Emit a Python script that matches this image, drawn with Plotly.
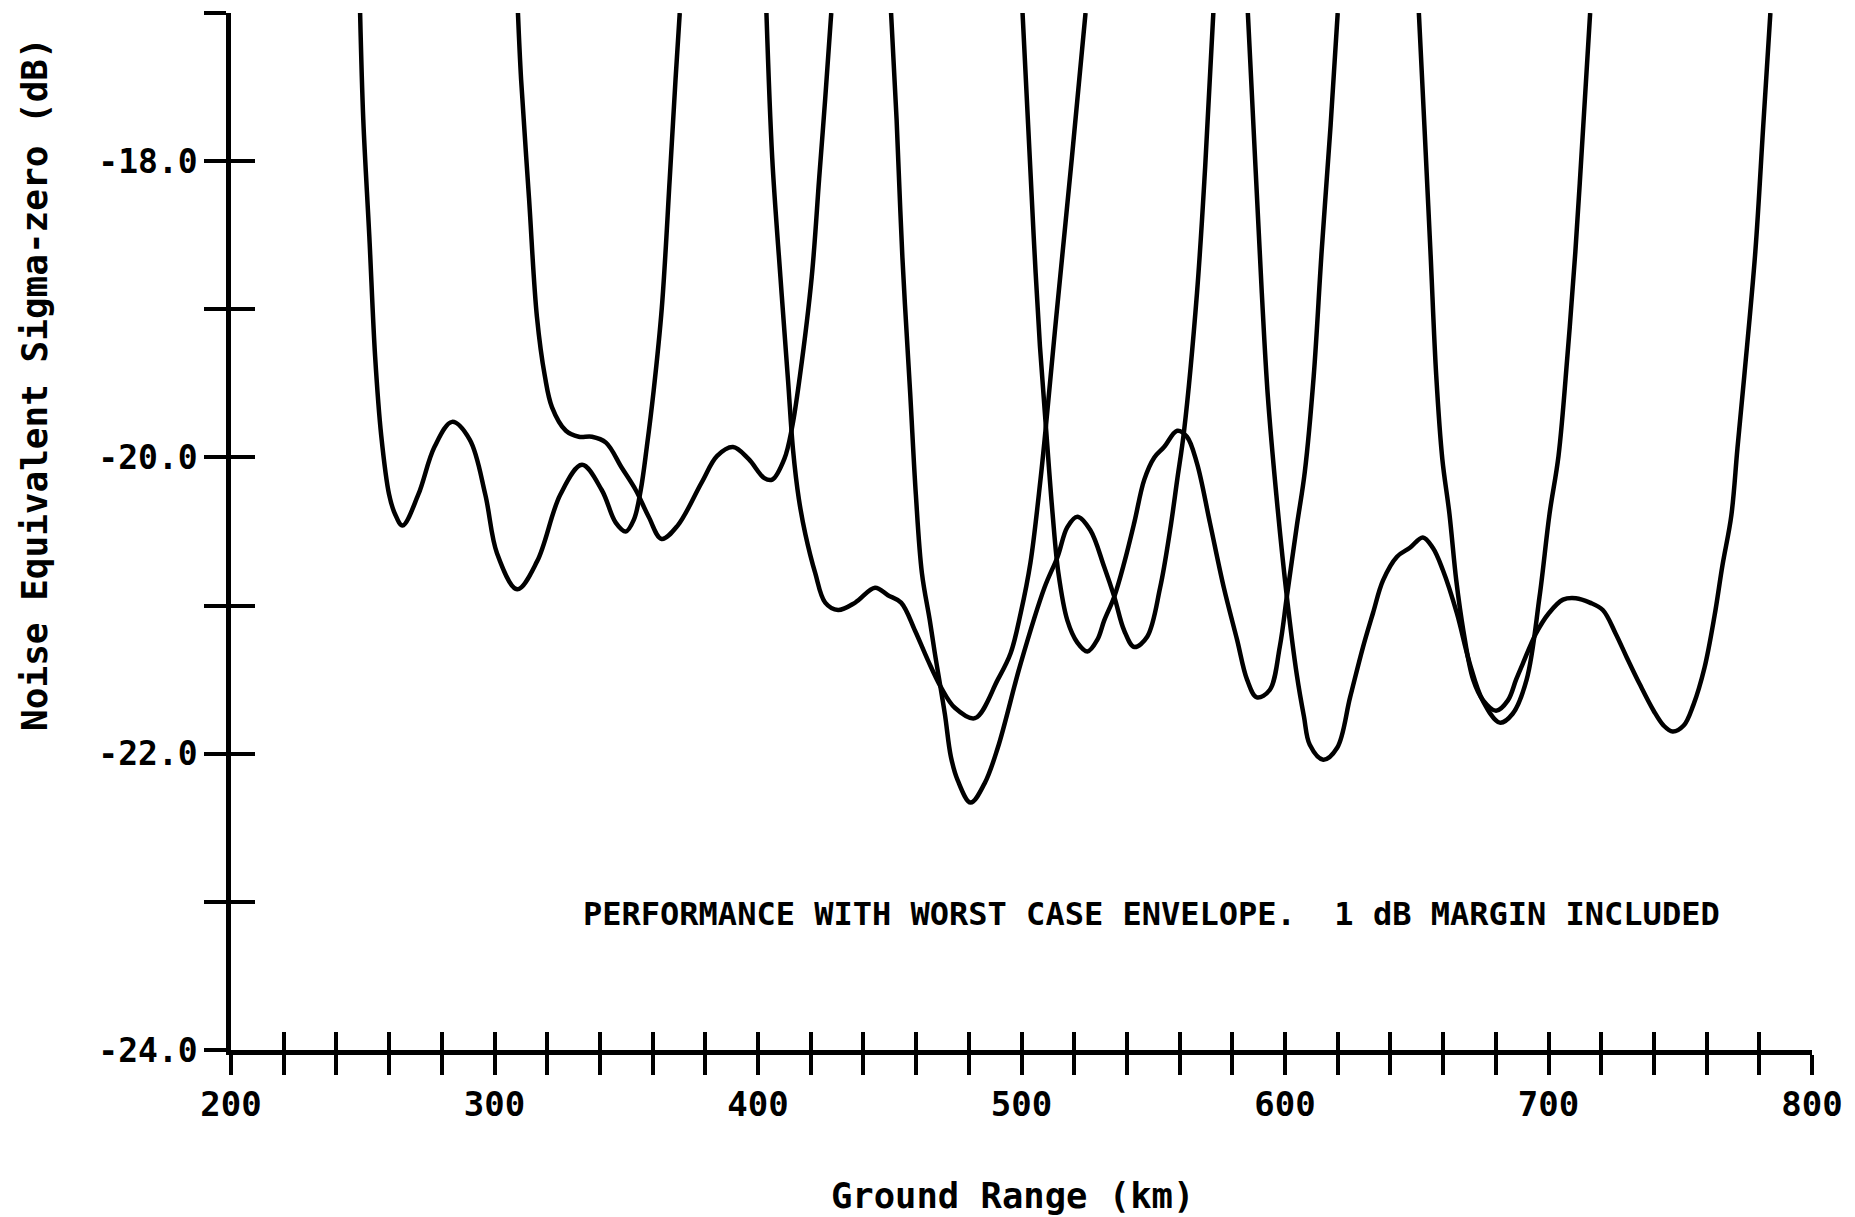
import plotly.graph_objects as go

# ---------------- data ----------------
beam1_x = [249.0, 250.2, 252.5, 254.7, 257.0, 260.0, 262.2, 265.1, 271.1, 277.2, 283.9, 290.6, 296.5, 301.0,
           308.6, 316.2, 325.0, 333.2, 340.7, 346.0, 349.8, 352.9, 355.5, 357.8, 360.4, 363.5, 366.5, 368.7, 370.3]
beam1_y = [-17.0, -17.72, -18.51, -19.32, -19.85, -20.25, -20.38, -20.46, -20.25, -19.93, -19.76, -19.88, -20.25, -20.65,
           -20.89, -20.70, -20.25, -20.05, -20.22, -20.44, -20.50, -20.42, -20.22, -19.93, -19.55, -18.99, -18.12, -17.45, -17.0]

beam2_x = [308.9, 310.1, 313.1, 316.1, 319.1, 321.8, 327.1, 332.0, 337.0, 342.3, 348.3, 353.6, 358.5, 363.4,
           369.5, 378.6, 384.5, 390.5, 396.4, 402.4, 405.4, 410.0, 412.9, 415.9, 420.4, 423.2, 425.5, 427.8]
beam2_y = [-17.0, -17.45, -18.25, -19.05, -19.45, -19.66, -19.82, -19.86, -19.86, -19.90, -20.07, -20.22, -20.40, -20.55,
           -20.46, -20.17, -19.99, -19.93, -20.01, -20.14, -20.15, -20.01, -19.80, -19.45, -18.78, -18.12, -17.58, -17.0]

beam3_x = [403.2, 405.4, 408.5, 411.4, 413.3, 415.5, 418.0, 421.7, 425.5, 430.4, 436.9, 444.4, 449.3, 454.3, 459.6,
           464.5, 469.4, 474.7, 482.3, 491.0, 495.9, 499.7, 503.4, 507.2, 509.1, 513.2, 519.1, 524.3]
beam3_y = [-17.0, -17.98, -18.78, -19.48, -19.95, -20.28, -20.52, -20.78, -20.98, -21.03, -20.98, -20.88, -20.93, -20.98, -21.17,
           -21.37, -21.55, -21.69, -21.76, -21.50, -21.32, -21.05, -20.71, -20.15, -19.82, -19.05, -17.98, -17.0]

beam4_x = [450.5, 452.6, 454.8, 457.8, 459.9, 462.2, 465.2, 467.1, 470.9, 473.2, 475.8, 480.7, 486.0, 491.0,
           499.7, 508.7, 513.7, 517.4, 521.2, 526.1, 531.4, 535.2, 539.0, 542.8, 547.7, 552.6, 556.4, 559.1,
           561.7, 566.6, 569.7, 572.8]
beam4_y = [-17.0, -17.72, -18.65, -19.58, -20.25, -20.78, -21.10, -21.32, -21.73, -22.02, -22.18, -22.33, -22.20, -21.96,
           -21.39, -20.88, -20.67, -20.47, -20.40, -20.49, -20.74, -20.94, -21.17, -21.28, -21.21, -20.88, -20.49, -20.15,
           -19.82, -18.89, -18.04, -17.0]

beam5_x = [500.4, 502.5, 504.6, 507.0, 509.5, 511.8, 514.0, 517.4, 521.2, 525.0, 528.8, 531.4, 535.2, 539.0,
           542.8, 546.6, 550.4, 554.1, 559.1, 562.8, 566.6, 571.5, 576.8, 581.8, 585.6, 589.3, 594.2, 598.0,
           600.7, 604.5, 607.5, 610.9, 613.9, 617.3, 620.0]
beam5_y = [-17.0, -17.75, -18.5, -19.25, -19.85, -20.38, -20.78, -21.10, -21.25, -21.31, -21.23, -21.10, -20.94, -20.71,
           -20.44, -20.15, -20.00, -19.93, -19.82, -19.86, -20.04, -20.44, -20.88, -21.23, -21.50, -21.62, -21.57, -21.28,
           -20.94, -20.46, -20.10, -19.45, -18.61, -17.76, -17.0]

beam6_x = [585.9, 588.8, 591.2, 593.5, 596.7, 600.7, 604.5, 607.2, 609.4, 614.5, 619.8, 624.7, 629.6, 633.4,
           637.2, 642.5, 647.4, 652.3, 656.1, 659.9, 665.2, 670.1, 675.0, 681.5, 686.4, 691.7, 696.6, 700.4,
           703.8, 707.2, 710.2, 713.2, 715.8]
beam6_y = [-17.0, -18.04, -18.89, -19.59, -20.25, -20.94, -21.47, -21.75, -21.94, -22.04, -21.96, -21.62, -21.28, -21.05,
           -20.83, -20.67, -20.61, -20.54, -20.61, -20.76, -21.05, -21.39, -21.64, -21.79, -21.73, -21.50, -20.94, -20.38,
           -19.99, -19.31, -18.61, -17.76, -17.0]

beam7_x = [650.8, 652.9, 655.2, 657.4, 659.7, 662.4, 665.0, 667.7, 671.4, 675.2, 680.1, 684.6, 687.7, 690.3,
           695.2, 700.2, 705.5, 710.4, 715.7, 720.6, 725.5, 729.7, 734.6, 739.9, 743.7, 747.1, 751.3, 755.0,
           759.2, 763.0, 766.0, 769.4, 771.7, 774.3, 778.5, 781.5, 784.2]
beam7_y = [-17.0, -17.76, -18.61, -19.45, -20.01, -20.38, -20.83, -21.17, -21.50, -21.64, -21.71, -21.64, -21.50, -21.39,
           -21.19, -21.05, -20.96, -20.95, -20.98, -21.03, -21.19, -21.35, -21.53, -21.71, -21.81, -21.85, -21.81, -21.67,
           -21.42, -21.07, -20.73, -20.39, -19.94, -19.45, -18.61, -17.76, -17.0]

x_tick_vals = [200, 220, 240, 260, 280, 300, 320, 340, 360, 380, 400, 420, 440, 460, 480, 500,
               520, 540, 560, 580, 600, 620, 640, 660, 680, 700, 720, 740, 760, 780, 800]
x_tick_text = ["200", "", "", "", "", "300", "", "", "", "", "400", "", "", "", "", "500",
               "", "", "", "", "600", "", "", "", "", "700", "", "", "", "", "800"]
y_tick_vals = [-24, -23, -22, -21, -20, -19, -18, -17]
y_tick_text = ["-24.0", "", "-22.0", "", "-20.0", "", "-18.0", ""]

x_title = "Ground Range (km)"
y_title = "Noise Equivalent Sigma-zero (dB)"
note_text = "PERFORMANCE WITH WORST CASE ENVELOPE.\u00a0 1 dB MARGIN INCLUDED"

# ---------------- figure ----------------
FONT = "DejaVu Sans Mono"
beams = [(beam1_x, beam1_y), (beam2_x, beam2_y), (beam3_x, beam3_y), (beam4_x, beam4_y),
         (beam5_x, beam5_y), (beam6_x, beam6_y), (beam7_x, beam7_y)]

fig = go.Figure()
for bx, by in beams:
    fig.add_trace(go.Scatter(x=bx, y=by, mode="lines",
                             line=dict(color="black", width=4.5, shape="spline", smoothing=1.0),
                             showlegend=False, hoverinfo="skip"))

# helper (empty) trace so the overlay axes carrying the inner half of the ticks are drawn
fig.add_trace(go.Scatter(x=[], y=[], xaxis="x2", yaxis="y2", showlegend=False, hoverinfo="skip"))

axis_common = dict(showgrid=False, zeroline=False, tickcolor="black", tickwidth=4)

fig.update_layout(
    width=1855, height=1217,
    margin=dict(l=231, r=38, t=13, b=167, pad=0),
    paper_bgcolor="white", plot_bgcolor="white",
    xaxis=dict(range=[200, 800], tickvals=x_tick_vals, ticktext=x_tick_text,
               ticks="outside", ticklen=20, showline=True, linewidth=4.5, linecolor="black",
               tickfont=dict(family=FONT, size=34, color="black", weight="bold"), **axis_common),
    yaxis=dict(range=[-24, -17], tickvals=y_tick_vals, ticktext=y_tick_text,
               ticks="outside", ticklen=22, showline=True, linewidth=4.5, linecolor="black",
               tickfont=dict(family=FONT, size=33, color="black", weight="bold"), **axis_common),
    xaxis2=dict(overlaying="x", anchor="y", side="bottom", range=[200, 800], tickvals=x_tick_vals,
                ticks="inside", ticklen=18, showticklabels=False, showline=False, **axis_common),
    yaxis2=dict(overlaying="y", anchor="x", side="left", range=[-24, -17], tickvals=y_tick_vals,
                ticks="inside", ticklen=24, showticklabels=False, showline=False, **axis_common),
    annotations=[
        dict(text=note_text, x=333, y=-23.08, xref="x", yref="y", xanchor="left", yanchor="middle",
             showarrow=False, font=dict(family=FONT, size=32, color="black", weight="bold")),
        dict(text=x_title, x=0.494, y=-0.1407, xref="paper", yref="paper", xanchor="center", yanchor="middle",
             showarrow=False, font=dict(family=FONT, size=35.5, color="black", weight="bold")),
        dict(text=y_title, x=-0.1242, y=0.642, xref="paper", yref="paper", xanchor="center", yanchor="middle",
             textangle=-90, showarrow=False, font=dict(family=FONT, size=36, color="black", weight="bold")),
    ],
)

fig.write_html("out.html")
